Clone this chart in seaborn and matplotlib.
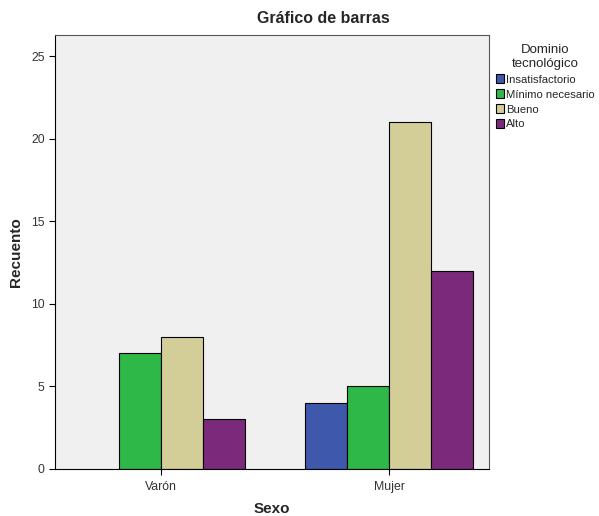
import numpy as np
import pandas as pd
import matplotlib
matplotlib.use("Agg")
import matplotlib.pyplot as plt
import seaborn as sns

# Data
sexo = ["Varón", "Mujer"]
niveles = ["Insatisfactorio", "Mínimo necesario", "Bueno", "Alto"]
recuento_varon = [np.nan, 7, 8, 3]
recuento_mujer = [4, 5, 21, 12]
colores = ["#3E58AC", "#2EB848", "#D3CE97", "#7B2A7B"]

rows = []
for s, vals in zip(sexo, [recuento_varon, recuento_mujer]):
    for n, v in zip(niveles, vals):
        if not np.isnan(v):
            rows.append({"Sexo": s, "Dominio": n, "Recuento": v})
df = pd.DataFrame(rows)

sns.set_style("white")
plt.rcParams["font.family"] = ["Liberation Sans", "DejaVu Sans"]

fig = plt.figure(figsize=(5.99, 5.16), dpi=100)
ax = fig.add_axes([0.0918, 0.0911, 0.7246, 0.8411])
ax.set_facecolor("#F0F0F0")

sns.barplot(data=df, x="Sexo", y="Recuento", hue="Dominio", order=sexo,
            hue_order=niveles, palette=colores, width=0.74, saturation=1,
            edgecolor="black", linewidth=0.8, ax=ax)

ax.set_xlim(-0.465, 1.439)
ax.set_ylim(0, 26.3)
ax.set_yticks([0, 5, 10, 15, 20, 25])

for sp in ax.spines.values():
    sp.set_visible(True)
    sp.set_color("#555555")
    sp.set_linewidth(0.8)
ax.spines["bottom"].set_color("black")
ax.spines["left"].set_color("black")

ax.tick_params(axis="both", direction="out", length=4, width=0.8,
               bottom=True, left=True, labelsize=8.8, colors="black",
               labelcolor="#333333")
ax.tick_params(axis="x", pad=5)

# title sits centred over plot + legend area
fig.text(0.54, 0.965, "Gráfico de barras", fontsize=11.5, fontweight="bold",
         ha="center", va="center")
ax.set_xlabel("Sexo", fontsize=11, fontweight="bold", labelpad=6)
ax.set_ylabel("Recuento", fontsize=11, fontweight="bold", labelpad=6)

leg = ax.legend(title="Dominio\ntecnológico", loc="upper left",
                bbox_to_anchor=(1.0, 0.995), frameon=False, fontsize=8.1,
                title_fontsize=9.5, handlelength=0.75, handleheight=0.8,
                handletextpad=0.15, labelspacing=0.42, borderaxespad=0.2)
leg.get_title().set_multialignment("center")

fig.savefig("out.png", dpi=100)
